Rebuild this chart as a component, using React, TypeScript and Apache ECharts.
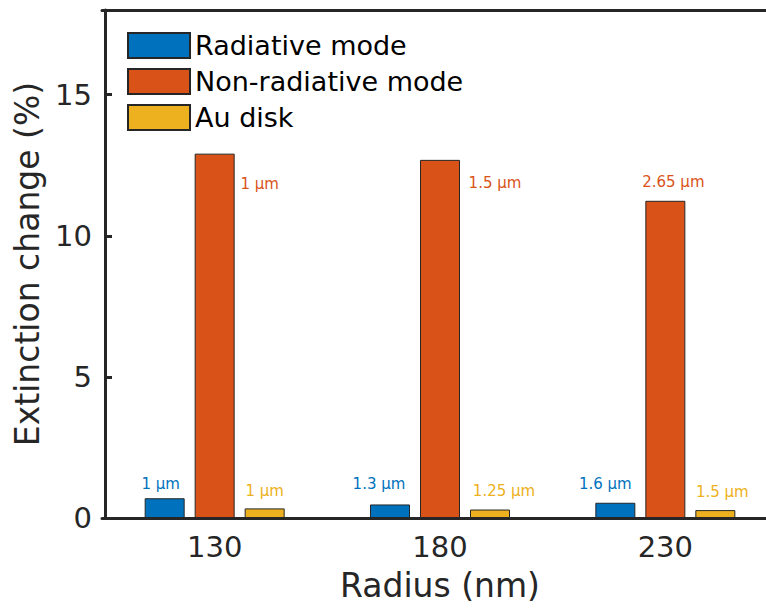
import React, { useEffect, useRef } from "react";
import * as echarts from "echarts";

const categories = ["130", "180", "230"];
const radiative = [0.7, 0.48, 0.54];
const nonRadiative = [12.91, 12.69, 11.24];
const auDisk = [0.34, 0.3, 0.28];
const radiativeLabels = ["1 μm", "1.3 μm", "1.6 μm"];
const nonRadiativeLabels = ["1 μm", "1.5 μm", "2.65 μm"];
const auDiskLabels = ["1 μm", "1.25 μm", "1.5 μm"];

const radiativeOffsets = [[-4, -2], [-11, -8], [-10, -6]];
const nonRadiativeOffsets = [[45, 43], [55, 36], [8, -6]];
const auDiskOffsets = [[0, -5], [14, -6], [7, -6]];

const FONT = "DejaVu Sans";
const DARK = "#262626";

function mkData(vals: number[], labels: string[], offsets: number[][], color: string) {
  return vals.map((v, i) => ({
    value: v,
    label: {
      show: true,
      position: "top",
      formatter: labels[i],
      offset: offsets[i],
      color,
      fontSize: 15,
      fontFamily: FONT,
    },
  }));
}

export default function App() {
  const ref = useRef<HTMLDivElement>(null);
  useEffect(() => {
    if (!ref.current) return;
    const chart = echarts.init(ref.current, undefined, { renderer: "svg" });
    const barCommon = {
      type: "bar",
      barWidth: 40,
      barGap: "25%",
      xAxisIndex: 0,
      yAxisIndex: 0,
    };
    chart.setOption({
      animation: false,
      backgroundColor: "#ffffff",
      grid: {
        left: 102,
        width: 676,
        top: 10,
        bottom: 94,
        containLabel: false,
        outerBoundsMode: "none",
      },
      legend: {
        orient: "vertical",
        left: 127,
        top: 32,
        itemWidth: 62,
        itemHeight: 25,
        itemGap: 9,
        icon: "rect",
        padding: 0,
        textStyle: { fontSize: 27, lineHeight: 25, color: "#000", fontFamily: FONT },
        data: ["Radiative mode", "Non-radiative mode", "Au disk"],
      },
      xAxis: [
        {
          type: "category",
          data: categories,
          position: "bottom",
          name: "Radius (nm)",
          nameLocation: "middle",
          nameGap: 51,
          nameTextStyle: { fontSize: 33, color: DARK, fontFamily: FONT },
          axisLine: { lineStyle: { color: DARK, width: 3 } },
          axisTick: { inside: true, length: 7, alignWithLabel: true, lineStyle: { color: DARK, width: 3 } },
          axisLabel: { fontSize: 29, color: DARK, fontFamily: FONT, margin: 14 },
          splitLine: { show: false },
        },
        {
          type: "category",
          data: categories,
          position: "top",
          axisLine: { lineStyle: { color: DARK, width: 3 } },
          axisTick: { inside: true, length: 7, alignWithLabel: true, lineStyle: { color: DARK, width: 3 } },
          axisLabel: { show: false },
          splitLine: { show: false },
        },
      ],
      yAxis: [
        {
          type: "value",
          min: 0,
          max: 18,
          interval: 5,
          offset: -3,
          name: "Extinction change (%)",
          nameLocation: "middle",
          nameGap: 55,
          nameTextStyle: { fontSize: 33, color: DARK, fontFamily: FONT },
          axisLine: { show: true, lineStyle: { color: DARK, width: 3 } },
          axisTick: { show: true, inside: true, length: 7, lineStyle: { color: DARK, width: 3 } },
          axisLabel: {
            fontSize: 29,
            color: DARK,
            fontFamily: FONT,
            margin: 13,
            showMaxLabel: false,
            formatter: (v: number) => (v % 5 === 0 ? String(v) : ""),
          },
          splitLine: { show: false },
        },
      ],
      series: [
        {
          ...barCommon,
          name: "Radiative mode",
          itemStyle: { color: "#0072BD", borderColor: DARK, borderWidth: 1 },
          data: mkData(radiative, radiativeLabels, radiativeOffsets, "#0072BD"),
        },
        {
          ...barCommon,
          name: "Non-radiative mode",
          itemStyle: { color: "#D95319", borderColor: DARK, borderWidth: 1 },
          data: mkData(nonRadiative, nonRadiativeLabels, nonRadiativeOffsets, "#D95319"),
        },
        {
          ...barCommon,
          name: "Au disk",
          itemStyle: { color: "#EDB120", borderColor: DARK, borderWidth: 1 },
          data: mkData(auDisk, auDiskLabels, auDiskOffsets, "#EDB120"),
        },
      ],
    });
    return () => chart.dispose();
  }, []);
  return <div ref={ref} style={{ width: 766, height: 612, position: "absolute", left: 0, top: 0 }} />;
}
